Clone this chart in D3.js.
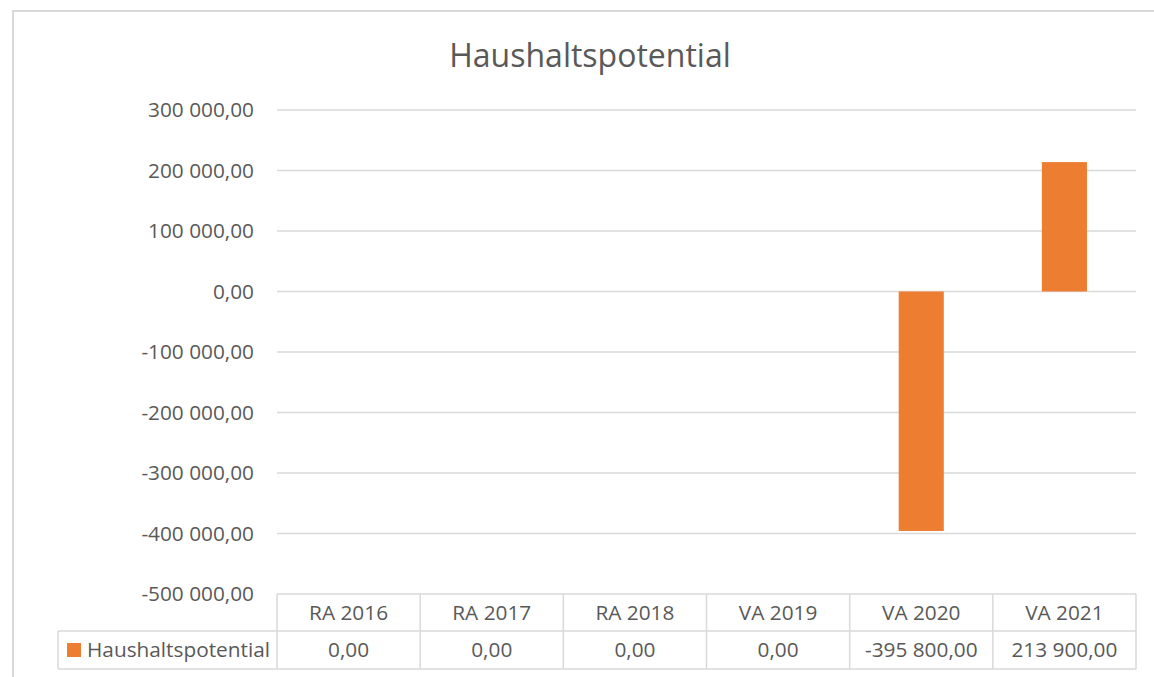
<!DOCTYPE html>
<html>
<head>
<meta charset="utf-8">
<script src="https://cdn.jsdelivr.net/npm/d3@7"></script>
<style>
  body { margin: 0; background: #fff; }
  svg text { font-family: "Open Sans", sans-serif; fill: #595959; }
</style>
</head>
<body>
<svg width="1154" height="677"></svg>
<script>
const categories = ["RA 2016", "RA 2017", "RA 2018", "VA 2019", "VA 2020", "VA 2021"];
const values = [0, 0, 0, 0, -395800, 213900];
const seriesName = "Haushaltspotential";
const yTicks = [-500000, -400000, -300000, -200000, -100000, 0, 100000, 200000, 300000];

const width = 1154;
const height = 677;
const margin = { top: 110, right: 18, bottom: 83, left: 277 };
const fs = 20.8;

const de = d3.formatLocale({ decimal: ",", thousands: " ", grouping: [3], currency: ["", " €"], minus: "-" });
const fmt = de.format(",.2f");

const svg = d3.select("svg");

// outer chart frame
svg.append("path")
  .attr("d", `M${width},11 H13 V${height}`)
  .attr("fill", "none")
  .attr("stroke", "#d9d9d9")
  .attr("stroke-width", 2);

const x = d3.scaleBand()
  .domain(categories)
  .range([margin.left, width - margin.right]);

const y = d3.scaleLinear()
  .domain([-500000, 300000])
  .range([height - margin.bottom, margin.top]);

// gridlines
svg.append("g")
  .selectAll("line")
  .data(yTicks)
  .join("line")
  .attr("x1", margin.left)
  .attr("x2", width - margin.right)
  .attr("y1", d => y(d))
  .attr("y2", d => y(d))
  .attr("stroke", "#d9d9d9")
  .attr("stroke-width", 1.5);

// y axis labels
svg.append("g")
  .selectAll("text")
  .data(yTicks)
  .join("text")
  .attr("x", 254)
  .attr("y", d => y(d))
  .attr("dy", "0.35em")
  .attr("text-anchor", "end")
  .attr("font-size", fs)
  .text(d => fmt(d));

// bars
const barW = x.bandwidth() * 0.315;
svg.append("g")
  .selectAll("rect")
  .data(values.map((v, i) => ({ cat: categories[i], v })))
  .join("rect")
  .attr("x", d => x(d.cat) + (x.bandwidth() - barW) / 2)
  .attr("width", barW)
  .attr("y", d => y(Math.max(0, d.v)))
  .attr("height", d => Math.abs(y(d.v) - y(0)))
  .attr("fill", "#ed7d31");

// title
svg.append("text")
  .attr("x", 590)
  .attr("y", 67)
  .attr("text-anchor", "middle")
  .attr("font-size", 32)
  .text("Haushaltspotential");

// data table
const tTop = y(-500000);
const tMid = 631;
const tBot = 669;
const legendLeft = 58;
const tRight = width - margin.right;
const table = svg.append("g")
  .attr("fill", "none")
  .attr("stroke", "#d9d9d9")
  .attr("stroke-width", 1.5);

table.append("line").attr("x1", legendLeft).attr("x2", tRight).attr("y1", tMid).attr("y2", tMid);
table.append("line").attr("x1", legendLeft).attr("x2", tRight).attr("y1", tBot).attr("y2", tBot);
table.append("line").attr("x1", legendLeft).attr("x2", legendLeft).attr("y1", tMid).attr("y2", tBot);
table.selectAll(".col")
  .data(categories.concat(["end"]))
  .join("line")
  .attr("x1", (d, i) => i < categories.length ? x(d) : tRight)
  .attr("x2", (d, i) => i < categories.length ? x(d) : tRight)
  .attr("y1", tTop)
  .attr("y2", tBot);

svg.append("g")
  .selectAll("text")
  .data(categories)
  .join("text")
  .attr("x", d => x(d) + x.bandwidth() / 2)
  .attr("y", (tTop + tMid) / 2)
  .attr("dy", "0.35em")
  .attr("text-anchor", "middle")
  .attr("font-size", fs)
  .text(d => d);

svg.append("g")
  .selectAll("text")
  .data(values.map((v, i) => ({ cat: categories[i], v })))
  .join("text")
  .attr("x", d => x(d.cat) + x.bandwidth() / 2)
  .attr("y", (tMid + tBot) / 2)
  .attr("dy", "0.35em")
  .attr("text-anchor", "middle")
  .attr("font-size", fs)
  .text(d => fmt(d.v));

// legend key in table
svg.append("rect")
  .attr("x", 67)
  .attr("y", 643)
  .attr("width", 14)
  .attr("height", 14)
  .attr("fill", "#ed7d31");

svg.append("text")
  .attr("x", 87)
  .attr("y", (tMid + tBot) / 2)
  .attr("dy", "0.35em")
  .attr("font-size", fs)
  .text(seriesName);
</script>
</body>
</html>
